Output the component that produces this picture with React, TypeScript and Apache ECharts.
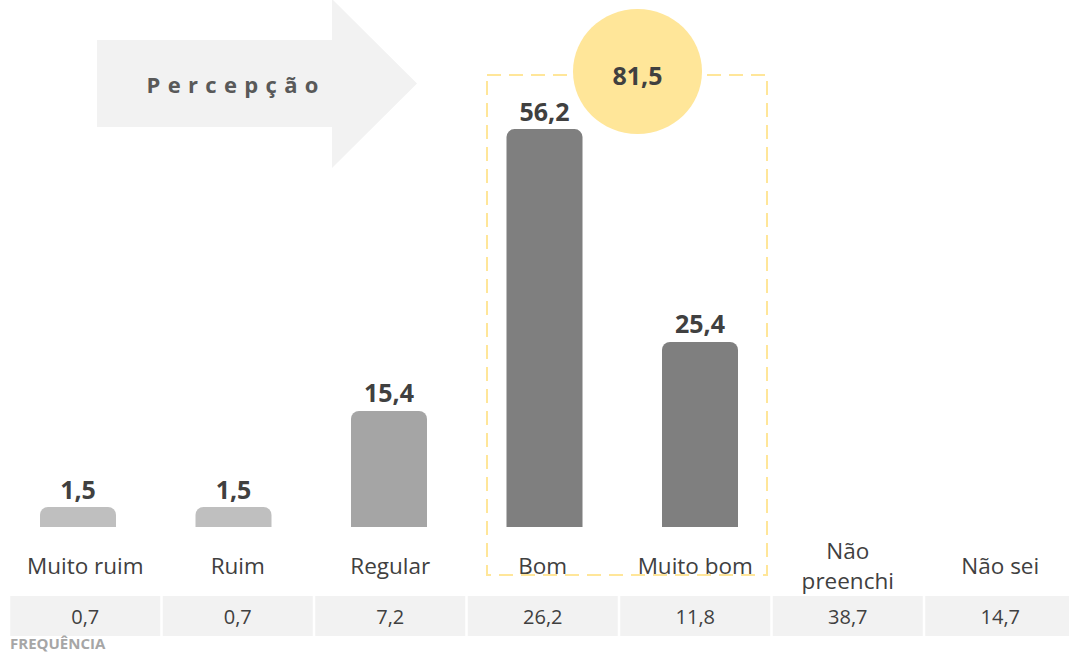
import { useEffect, useRef } from "react";
import * as echarts from "echarts";

// ---- data ----
const categories = ["Muito ruim", "Ruim", "Regular", "Bom", "Muito bom", "Não\npreenchi", "Não sei"];
const percentValues: (number | null)[] = [1.5, 1.5, 15.4, 56.2, 25.4, null, null];
const frequencyValues = [0.7, 0.7, 7.2, 26.2, 11.8, 38.7, 14.7];
const barColors = ["#bfbfbf", "#bfbfbf", "#a5a5a5", "#7f7f7f", "#7f7f7f", "#7f7f7f", "#7f7f7f"];
const positiveTotal = 81.5;
const arrowTitle = "Percepção";
const tableTitle = "FREQUÊNCIA";

const FONT = "'Open Sans', 'Noto Sans', sans-serif";
const fmt = (v: number) => v.toFixed(1).replace(".", ",");

export default function App() {
  const ref = useRef<HTMLDivElement>(null);

  useEffect(() => {
    if (!ref.current) return;
    const chart = echarts.init(ref.current, undefined, { renderer: "svg" });

    const option: any = {
      animation: false,
      backgroundColor: "#ffffff",
      textStyle: { fontFamily: FONT },
      title: {
        text: tableTitle,
        left: 10,
        top: 635,
        padding: 0,
        textStyle: {
          fontFamily: FONT,
          fontSize: 15,
          lineHeight: 15,
          fontWeight: "bold",
          color: "#a6a6a6",
        },
      },
      grid: [
        { left: 0.25, top: 0, width: 1088.5, height: 527 },
        { left: 9, top: 540, width: 1067.5, height: 10 },
        { left: 9, top: 600, width: 1067.5, height: 16 },
      ],
      xAxis: [
        { gridIndex: 0, type: "category", data: categories, show: false },
        {
          gridIndex: 1,
          type: "category",
          data: categories,
          axisLine: { show: false },
          axisTick: { show: false },
          axisLabel: {
            interval: 0,
            margin: 15,
            verticalAlign: "middle",
            lineHeight: 30,
            fontSize: 22.5,
            color: "#404040",
            fontFamily: FONT,
          },
        },
        {
          gridIndex: 2,
          type: "category",
          data: frequencyValues.map(fmt),
          axisLine: { show: false },
          axisTick: { show: false },
          axisLabel: {
            interval: 0,
            margin: 0,
            verticalAlign: "middle",
            align: "center",
            width: 150,
            height: 40,
            lineHeight: 40,
            backgroundColor: "#f2f2f2",
            fontSize: 20,
            color: "#404040",
            fontFamily: FONT,
          },
        },
      ],
      yAxis: [
        { gridIndex: 0, type: "value", min: -1.39, max: 74.88, startValue: -1.39, show: false },
        { gridIndex: 1, type: "value", show: false },
        { gridIndex: 2, type: "value", show: false },
      ],
      series: [
        {
          type: "bar",
          xAxisIndex: 0,
          yAxisIndex: 0,
          barWidth: 76,
          data: percentValues.map((v, i) =>
            v == null ? "-" : { value: v, itemStyle: { color: barColors[i] } }
          ),
          itemStyle: { borderRadius: [8, 8, 0, 0] },
          label: {
            show: true,
            position: "top",
            distance: 6,
            formatter: (p: any) => fmt(p.value),
            fontFamily: FONT,
            fontSize: 25,
            fontWeight: "bold",
            color: "#404040",
          },
        },
      ],
      graphic: [
        {
          type: "polygon",
          shape: {
            points: [
              [97, 40],
              [332, 40],
              [332, -1],
              [417, 83.5],
              [332, 168],
              [332, 127],
              [97, 127],
            ],
          },
          style: { fill: "#f2f2f2" },
        },
        {
          type: "text",
          x: 232.5,
          y: 84,
          style: {
            text: arrowTitle.split("").join("\u2004"),
            fontFamily: FONT,
            fontSize: 22,
            fontWeight: "bold",
            fill: "#595959",
            textAlign: "center",
            textVerticalAlign: "middle",
          },
        },
        {
          type: "rect",
          shape: { x: 487, y: 75, width: 280, height: 500 },
          style: { fill: "none", stroke: "#ffe699", lineWidth: 2, lineDash: [14, 8] },
        },
        {
          type: "ellipse",
          shape: { cx: 637.5, cy: 71.5, rx: 64.5, ry: 62.5 },
          style: { fill: "#ffe699" },
        },
        {
          type: "text",
          x: 637.5,
          y: 75,
          style: {
            text: fmt(positiveTotal),
            fontFamily: FONT,
            fontSize: 25,
            fontWeight: "bold",
            fill: "#404040",
            textAlign: "center",
            textVerticalAlign: "middle",
          },
        },
      ],
    };

    chart.setOption(option);
    return () => chart.dispose();
  }, []);

  return (
    <div
      style={{
        position: "absolute",
        left: 0,
        top: 0,
        width: 1069,
        height: 652,
        overflow: "hidden",
      }}
    >
      <div ref={ref} style={{ width: 1090, height: 652 }} />
    </div>
  );
}
